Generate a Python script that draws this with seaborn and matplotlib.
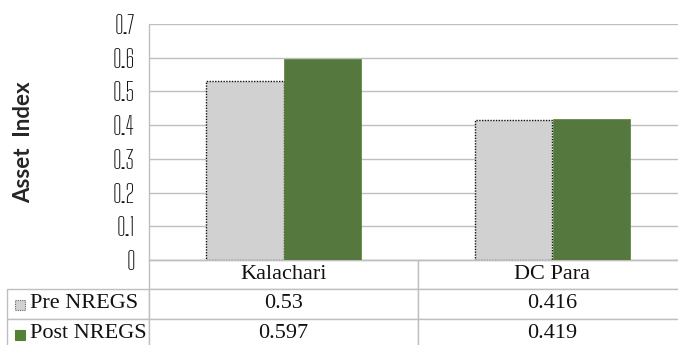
import numpy as np
import pandas as pd
import seaborn as sns
from matplotlib import pyplot as plt
from matplotlib.patches import Rectangle

# Data
sites = ['Kalachari', 'DC Para']
periods = ['Pre NREGS', 'Post NREGS']
preValues = [0.53, 0.416]
postValues = [0.597, 0.419]
preLabels = ['0.53', '0.416']
postLabels = ['0.597', '0.419']
yTicks = [0, 0.1, 0.2, 0.3, 0.4, 0.5, 0.6, 0.7]
yTickLabels = ['0', '0.1', '0.2', '0.3', '0.4', '0.5', '0.6', '0.7']

df = pd.DataFrame({
    'Site': sites * 2,
    'Period': [periods[0]] * 2 + [periods[1]] * 2,
    'Value': preValues + postValues,
})

colPre = '#D0D1D0'
colPost = '#538135'
gridCol = '#BFBFBF'

sns.set_style('white')

W, H = 678, 345
fig = plt.figure(figsize=(W / 100, H / 100), dpi=100)
# axes in pixel terms: left 149, right 687, top 24, bottom 260
axW = 687 - 149
axH = 260 - 24
ax = fig.add_axes([149 / W, 1 - 260 / H, axW / W, axH / H])

sns.barplot(data=df, x='Site', y='Value', hue='Period', order=sites, hue_order=periods,
            palette=[colPre, colPost], width=0.575, legend=False, ax=ax, zorder=3)

# styling of bars
for bar in ax.containers[0]:
    bar.set_edgecolor('#111111')
    bar.set_linestyle((0, (1, 1)))
    bar.set_linewidth(1.0)
for bar in ax.containers[1]:
    bar.set_edgecolor(colPost)
    bar.set_linewidth(0.5)

ax.set_xlim(-0.5, 1.5)
ax.set_ylim(0, 0.7)
ax.set_yticks(yTicks)
ax.set_yticklabels(yTickLabels, family=['Big Shoulders Text', 'DejaVu Sans'],
                   fontsize=18, fontweight='semibold', color='#111111')
ax.tick_params(axis='y', length=0, pad=10)
ax.set_xticks([])
ax.set_xlabel('')
ax.yaxis.grid(True, color=gridCol, lw=1.0, zorder=0)
ax.set_axisbelow(True)
for s in ['top', 'right']:
    ax.spines[s].set_visible(False)
ax.spines['left'].set_color(gridCol)
ax.spines['bottom'].set_color(gridCol)
ax.spines['left'].set_linewidth(1.0)
ax.spines['bottom'].set_linewidth(1.0)

ax.set_ylabel('Asset  Index', family=['Lato', 'DejaVu Sans'], fontweight='bold', fontsize=16)
ax.yaxis.set_label_coords((34 - 149) / axW, 0.5)

# data table below the plot (first column holds the series names)
tabLeft = (7 - 149) / axW
tabBottom = -(348 - 260) / axH
labW = (149 - 7) / axW
cellText = [[periods[0]] + preLabels, [periods[1]] + postLabels]
tab = ax.table(cellText=cellText, colLabels=[''] + sites, cellLoc='center',
               colWidths=[labW, 0.5, 0.5],
               bbox=[tabLeft, tabBottom, 1 - tabLeft, -tabBottom])
tab.auto_set_font_size(False)
for (r, c), cell in tab.get_celld().items():
    cell.set_edgecolor(gridCol)
    cell.set_linewidth(1.0)
    cell.set_clip_on(False)
    cell.get_text().set_fontfamily(['Liberation Serif', 'DejaVu Serif'])
    cell.get_text().set_fontsize(16)
    cell.get_text().set_color('#111111')
    if c == 0:
        cell.get_text().set_horizontalalignment('left')
        cell.PAD = 23 / 142
        if r == 0:
            cell.visible_edges = ''

# legend keys in the row label column
fig.patches.append(Rectangle((15 / W, 1 - 310 / H), 10 / W, 10 / H, transform=fig.transFigure,
                             facecolor=colPre, edgecolor='#666666', linestyle=(0, (1, 1)), lw=0.8))
fig.patches.append(Rectangle((15 / W, 1 - 340 / H), 10 / W, 10 / H, transform=fig.transFigure,
                             facecolor=colPost, edgecolor=colPost, lw=0.8))

fig.savefig('out.png', dpi=100)
